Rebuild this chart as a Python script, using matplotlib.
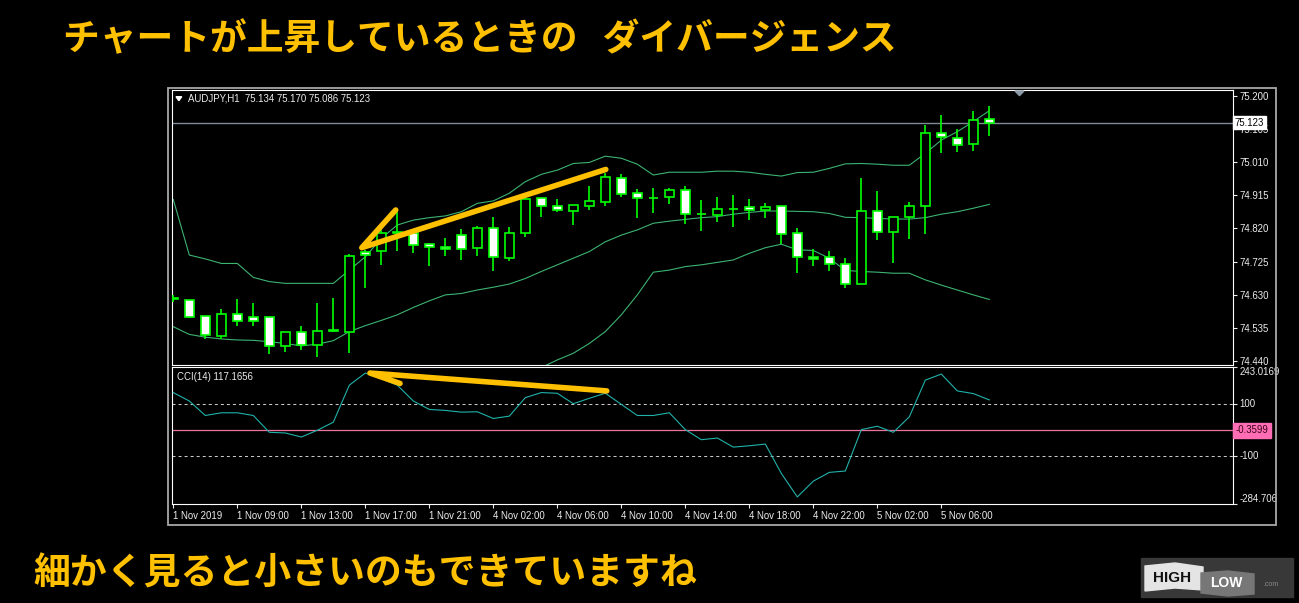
import matplotlib
matplotlib.use('Agg')
import matplotlib.pyplot as plt
import numpy as np
from matplotlib.patches import Rectangle, Polygon

W, H = 1299, 603
DPI = 100

# ---------------- data ----------------
opens = [74.619, 74.614, 74.570, 74.511, 74.574, 74.566, 74.566, 74.484, 74.523, 74.486,
         74.527, 74.525, 74.752, 74.755, 74.806, 74.806, 74.775, 74.768, 74.800, 74.763,
         74.821, 74.735, 74.806, 74.906, 74.883, 74.871, 74.885, 74.897, 74.964, 74.921,
         74.908, 74.911, 74.929, 74.861, 74.860, 74.875, 74.881, 74.872, 74.883, 74.806,
         74.738, 74.738, 74.718, 74.662, 74.869, 74.809, 74.854, 74.883, 75.092, 75.078,
         75.061, 75.134]
highs = [74.630, 74.616, 74.570, 74.590, 74.617, 74.606, 74.566, 74.523, 74.541, 74.606,
         74.620, 74.746, 74.759, 74.821, 74.873, 74.811, 74.778, 74.792, 74.819, 74.826,
         74.852, 74.825, 74.908, 74.908, 74.903, 74.886, 74.942, 74.978, 74.976, 74.933,
         74.936, 74.936, 74.942, 74.902, 74.910, 74.916, 74.904, 74.893, 74.883, 74.821,
         74.760, 74.756, 74.735, 74.964, 74.927, 74.854, 74.896, 75.115, 75.145, 75.105,
         75.156, 75.170]
lows = [74.611, 74.564, 74.503, 74.504, 74.542, 74.542, 74.460, 74.466, 74.472, 74.453,
        74.523, 74.465, 74.651, 74.716, 74.757, 74.751, 74.713, 74.742, 74.731, 74.742,
        74.699, 74.728, 74.797, 74.854, 74.868, 74.830, 74.873, 74.883, 74.911, 74.851,
        74.865, 74.890, 74.834, 74.814, 74.840, 74.825, 74.845, 74.851, 74.775, 74.694,
        74.714, 74.697, 74.651, 74.660, 74.788, 74.722, 74.791, 74.805, 75.037, 75.040,
        75.043, 75.086]
closes = [74.621, 74.566, 74.514, 74.574, 74.554, 74.554, 74.484, 74.523, 74.486, 74.526,
          74.528, 74.742, 74.743, 74.806, 74.811, 74.772, 74.766, 74.761, 74.760, 74.821,
          74.739, 74.806, 74.903, 74.883, 74.872, 74.886, 74.898, 74.966, 74.918, 74.906,
          74.907, 74.929, 74.861, 74.862, 74.875, 74.876, 74.872, 74.881, 74.805, 74.738,
          74.732, 74.718, 74.660, 74.869, 74.809, 74.852, 74.883, 75.092, 75.081, 75.058,
          75.130, 75.123]

bb_upper = [74.903, 74.744, 74.733, 74.720, 74.720, 74.680, 74.668, 74.663, 74.663, 74.663,
            74.663, 74.701, 74.739, 74.792, 74.830, 74.844, 74.851, 74.856, 74.868, 74.892,
            74.899, 74.921, 74.954, 74.975, 74.987, 75.006, 75.009, 75.027, 75.021, 75.004,
            74.973, 74.981, 74.981, 74.981, 74.984, 74.984, 74.981, 74.975, 74.970, 74.980,
            74.981, 74.992, 75.005, 75.006, 75.004, 75.001, 75.001, 75.035, 75.073, 75.097,
            75.126, 75.157]
bb_mid = [74.539, 74.517, 74.509, 74.504, 74.501, 74.500, 74.496, 74.491, 74.484, 74.489,
          74.499, 74.525, 74.542, 74.557, 74.573, 74.594, 74.613, 74.630, 74.634, 74.644,
          74.652, 74.661, 74.677, 74.697, 74.716, 74.735, 74.754, 74.782, 74.801, 74.816,
          74.835, 74.841, 74.846, 74.851, 74.854, 74.861, 74.866, 74.870, 74.870, 74.869,
          74.868, 74.863, 74.852, 74.851, 74.849, 74.847, 74.847, 74.851, 74.861, 74.868,
          74.878, 74.889]
bb_lower = [74.175, 74.290, 74.285, 74.288, 74.282, 74.320, 74.324, 74.319, 74.305, 74.315,
            74.335, 74.349, 74.345, 74.322, 74.316, 74.344, 74.375, 74.404, 74.400, 74.396,
            74.405, 74.401, 74.400, 74.422, 74.444, 74.463, 74.491, 74.525, 74.573, 74.630,
            74.695, 74.701, 74.711, 74.716, 74.723, 74.730, 74.749, 74.765, 74.775, 74.759,
            74.757, 74.735, 74.700, 74.697, 74.695, 74.692, 74.692, 74.673, 74.658, 74.644,
            74.630, 74.617]

cci = [145.4, 112.9, 57.0, 67.4, 67.4, 57.0, -7.9, -10.5, -26.1, -0.1,
       31.1, 174.0, 220.8, 199.0, 174.0, 112.9, 80.4, 76.5, 70.0, 71.3,
       45.4, 54.5, 125.9, 145.4, 142.8, 102.5, 123.3, 143.0, 99.9, 57.0,
       57.0, 67.4, 2.5, -36.5, -30.0, -65.1, -59.9, -53.4, -166.5, -257.5,
       -196.4, -162.6, -157.4, 2.5, 15.5, -8.0, 51.8, 193.5, 216.9, 151.9,
       141.5, 117.17]

price_ticks = [75.200, 75.105, 75.010, 74.915, 74.820, 74.725, 74.630, 74.535, 74.440]
price_tick_labels = ['75.200', '75.105', '75.010', '74.915', '74.820', '74.725',
                     '74.630', '74.535', '74.440']
time_label_idx = [0, 4, 8, 12, 16, 20, 24, 28, 32, 36, 40, 44, 48]
time_labels = ['1 Nov 2019', '1 Nov 09:00', '1 Nov 13:00', '1 Nov 17:00', '1 Nov 21:00',
               '4 Nov 02:00', '4 Nov 06:00', '4 Nov 10:00', '4 Nov 14:00', '4 Nov 18:00',
               '4 Nov 22:00', '5 Nov 02:00', '5 Nov 06:00']
cci_ticks = [243.0169, 100, -100, -284.706]
cci_tick_labels = ['243.0169', '100', '-100', '-284.706']
cci_level = -0.3599
cci_level_label = '-0.3599'
last_price = 75.123
last_price_label = '75.123'
header_text = 'AUDJPY,H1  75.134 75.170 75.086 75.123'
cci_header_text = 'CCI(14) 117.1656'
title_text = 'チャートが上昇しているときの   ダイバージェンス'
subtitle_text = '細かく見ると小さいのもできていますね'

# hand-drawn divergence marks (index, value)
price_mark_x = [13.9, 11.78, 27.03]
price_mark_y = [74.873, 74.765, 74.989]
cci_mark_x = [14.17, 12.29, 27.09]
cci_mark_y = [180.7, 220.9, 151.9]

# ---------------- styling ----------------
plt.rcParams['font.family'] = ['Liberation Sans', 'DejaVu Sans']
BG = 'black'
CANDLE = '#00FF00'
BAND = '#3CB371'
CCI_C = '#20B2AA'
YEL = '#FFC000'
TXT = '#EDEDED'


def fx(x):
    return x / W


def fy(y):
    return 1 - y / H


fig = plt.figure(figsize=(W / DPI, H / DPI), dpi=DPI, facecolor=BG)

ax1 = fig.add_axes([fx(172.3), fy(365), (1232.7 - 172.3) / W, (365 - 90) / H])
ax2 = fig.add_axes([fx(172.3), fy(504), (1232.7 - 172.3) / W, (504 - 367.3) / H])

xlim = (-0.0625, 66.21)
for ax in (ax1, ax2):
    ax.set_facecolor(BG)
    ax.set_xlim(*xlim)
    for s in ax.spines.values():
        s.set_color('white')
        s.set_linewidth(0.8)

# --- price panel ---
x = np.arange(len(opens))
o = np.array(opens); h = np.array(highs); l = np.array(lows); c = np.array(closes)
bull = c >= o
ax1.vlines(x, l, h, color=CANDLE, lw=1.2, zorder=3)
body_bot = np.minimum(o, c)
body_h = np.maximum(np.abs(c - o), 0.0012)
ax1.bar(x, body_h, bottom=body_bot, width=0.56,
        color=['black' if b else 'white' for b in bull],
        edgecolor=CANDLE, linewidth=1.2, zorder=4)
ax1.plot(x, bb_upper, color=BAND, lw=0.8, zorder=2)
ax1.plot(x, bb_mid, color=BAND, lw=0.8, zorder=2)
ax1.plot(x, bb_lower, color=BAND, lw=0.8, zorder=2)
ax1.axhline(last_price, color='#7F8A96', lw=1.0, zorder=1)
ax1.plot(price_mark_x, price_mark_y, color=YEL, lw=4.0, solid_capstyle='round',
         solid_joinstyle='round', zorder=6)
ax1.set_ylim(74.4294, 75.2163)
ax1.yaxis.tick_right()
ax1.set_yticks(price_ticks)
ax1.set_yticklabels(price_tick_labels)
ax1.tick_params(axis='y', colors=TXT, length=3, width=0.8, labelsize=6.9, pad=2)
ax1.set_xticks([])
ax1.text(1.002, last_price, last_price_label, transform=ax1.get_yaxis_transform(),
         ha='left', va='center', fontsize=6.9, color='black', zorder=10, clip_on=False,
         bbox=dict(boxstyle='square,pad=0.15', fc='white', ec='white'))
# shift marker
tri = Polygon([[fx(1015), fy(91)], [fx(1024), fy(91)], [fx(1019.5), fy(95.7)]],
              closed=True, transform=fig.transFigure, color='#8C9AA8')
fig.patches.append(tri)

# --- CCI panel ---
ax2.plot(x, cci, color=CCI_C, lw=0.8, zorder=3)
ax2.axhline(100, color='#C8C8C8', lw=0.75, ls=(0, (2.9, 2.9)), zorder=1)
ax2.axhline(-100, color='#C8C8C8', lw=0.75, ls=(0, (2.9, 2.9)), zorder=1)
ax2.axhline(cci_level, color='#E8749F', lw=0.9, zorder=1)
ax2.plot(cci_mark_x, cci_mark_y, color=YEL, lw=4.0, solid_capstyle='round',
         solid_joinstyle='round', zorder=6)
ax2.set_ylim(cci_ticks[-1], cci_ticks[0])
ax2.yaxis.tick_right()
ax2.set_yticks(cci_ticks)
ax2.set_yticklabels(cci_tick_labels)
ax2.tick_params(axis='y', colors=TXT, length=3, width=0.8, labelsize=6.9, pad=2)
for t, va in zip(ax2.yaxis.get_major_ticks(), ['top', 'center', 'center', 'bottom']):
    t.label2.set_va(va)
ax2.yaxis.get_major_ticks()[0].label2.set_y(243.0169)
ax2.set_xticks(time_label_idx)
ax2.set_xticklabels(time_labels, ha='left')
ax2.tick_params(axis='x', colors=TXT, length=3, width=0.8, labelsize=6.9, pad=2)
ax2.text(1.003, cci_level, cci_level_label, transform=ax2.get_yaxis_transform(),
         ha='left', va='center', fontsize=6.9, color='#3A0018', zorder=10, clip_on=False,
         bbox=dict(boxstyle='square,pad=0.25', fc='#FF6EB4', ec='#FF6EB4'))

# --- headers ---
hdr_tri = Polygon([[fx(176), fy(96.7)], [fx(181.7), fy(96.7)], [fx(178.85), fy(100.7)]],
                  closed=True, transform=fig.transFigure, color='white')
fig.patches.append(hdr_tri)
fig.text(fx(188.3), fy(98.7), header_text, color=TXT, fontsize=6.9, ha='left', va='center')
fig.text(fx(177.3), fy(377.2), cci_header_text, color=TXT, fontsize=6.9, ha='left', va='center')

# --- outer window frame ---
fig.patches.append(Rectangle((fx(167.7), fy(524.5)), (1275.5 - 167.7) / W, (524.5 - 87.7) / H,
                             transform=fig.transFigure, fill=False, ec='#A8A8A8', lw=1.3))

# --- Japanese captions ---
jp = ['Noto Sans CJK JP', 'DejaVu Sans']
fig.text(fx(63), fy(40), title_text, color=YEL, fontsize=26.5, fontweight='bold',
         family=jp, ha='left', va='center')
fig.text(fx(33), fy(574), subtitle_text, color=YEL, fontsize=26.6, fontweight='bold',
         family=jp, ha='left', va='center')

# --- logo ---
fig.patches.append(Rectangle((fx(1141), fy(597)), 152 / W, 39 / H, transform=fig.transFigure,
                             color='#383838'))
fig.patches.append(Polygon([[fx(1145), fy(566)], [fx(1175), fy(563)], [fx(1203), fy(567)],
                            [fx(1203), fy(590)], [fx(1175), fy(588)], [fx(1145), fy(591)]],
                           closed=True, transform=fig.transFigure, color='#E4E4E4'))
fig.patches.append(Polygon([[fx(1201), fy(573)], [fx(1228), fy(571)], [fx(1254), fy(574)],
                            [fx(1254), fy(594)], [fx(1228), fy(596)], [fx(1201), fy(593)]],
                           closed=True, transform=fig.transFigure, color='#777777'))
fig.text(fx(1172), fy(577.5), 'HIGH', color='#111111', fontsize=11, fontweight='bold',
         ha='center', va='center')
fig.text(fx(1226), fy(583), 'LOW', color='white', fontsize=10, fontweight='bold',
         ha='center', va='center')
fig.text(fx(1271), fy(584), '.com', color='#8A8A8A', fontsize=5, ha='center', va='center')

fig.savefig('out.png', dpi=DPI, facecolor=BG)
